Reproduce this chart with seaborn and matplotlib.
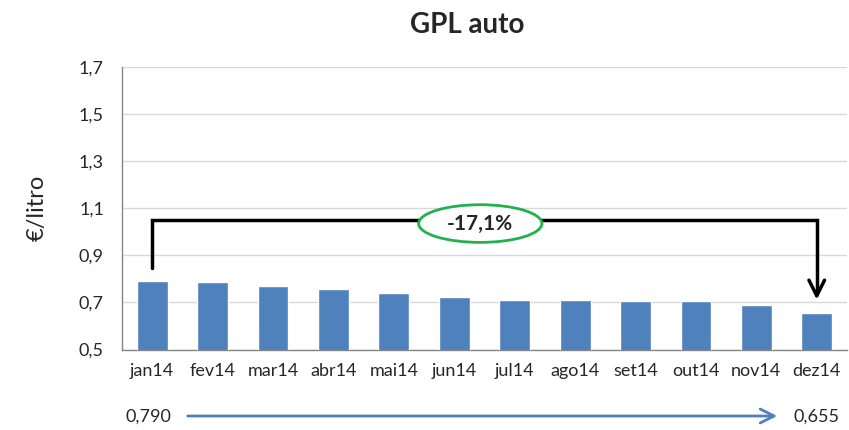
import pandas as pd
import matplotlib.pyplot as plt
import seaborn as sns
from matplotlib.patches import Ellipse

meses = ['jan14', 'fev14', 'mar14', 'abr14', 'mai14', 'jun14',
         'jul14', 'ago14', 'set14', 'out14', 'nov14', 'dez14']
precos = [0.790, 0.787, 0.768, 0.755, 0.742, 0.723,
          0.712, 0.712, 0.705, 0.705, 0.688, 0.655]
variacao = '-17,1%'
y_ticks = [0.5, 0.7, 0.9, 1.1, 1.3, 1.5, 1.7]

df = pd.DataFrame({'mes': meses, 'preco': precos})

sns.set_style('white')
plt.rcParams['font.family'] = ['Lato', 'DejaVu Sans']

fig = plt.figure(figsize=(8.49, 4.30), dpi=100)
ax = fig.add_axes([0.1437, 0.1872, 0.8539, 0.657])

sns.barplot(data=df, x='mes', y='preco', color='#4f81bd', saturation=1,
            width=0.51, ax=ax, zorder=3)

ax.set_ylim(0.5, 1.7)
ax.set_xlim(-0.5, len(meses) - 0.5)
ax.set_yticks(y_ticks)
ax.set_yticklabels([f'{v:.1f}'.replace('.', ',') for v in y_ticks], fontsize=13)
ax.grid(axis='y', color='#d9d9d9', linewidth=1, zorder=0)
ax.set_axisbelow(True)

ax.set_xlabel('')
ax.set_ylabel('€/litro', fontsize=17)
ax.yaxis.set_label_coords(-0.103, 0.5)

for s in ['top', 'right']:
    ax.spines[s].set_visible(False)
for s in ['left', 'bottom']:
    ax.spines[s].set_color('#868686')
    ax.spines[s].set_linewidth(1)

ax.tick_params(axis='x', which='major', length=0, labelsize=13, pad=10)
ax.set_xticks([i - 0.5 for i in range(len(meses) + 1)], minor=True)
ax.tick_params(axis='x', which='minor', length=5, color='#868686', direction='out')
ax.tick_params(axis='y', length=5, color='#868686', direction='out', pad=8)

# colchete com seta
n = len(meses) - 1
ax.plot([0, 0, n, n], [0.845, 1.05, 1.05, 0.74], color='black', lw=2.5,
        zorder=4, solid_joinstyle='miter')
ax.annotate('', xy=(n, 0.70), xytext=(n, 0.76),
            arrowprops=dict(arrowstyle='->', color='black', lw=2.5,
                            mutation_scale=28), zorder=5)
ax.add_patch(Ellipse((5.43, 1.035), 2.04, 0.16, facecolor='white',
                     edgecolor='#22b14c', lw=2, zorder=5))
ax.text(5.43, 1.035, variacao, ha='center', va='center', fontsize=15,
        fontweight='bold', zorder=6)

fig.text(466.7 / 849, 1 - 25 / 430, 'GPL auto', ha='center', va='center',
         fontsize=20, fontweight='bold')

# valores inicial e final
fig.text(148 / 849, 1 - 417 / 430, f'{precos[0]:.3f}'.replace('.', ','),
         ha='center', va='center', fontsize=13)
fig.text(816 / 849, 1 - 417 / 430, f'{precos[-1]:.3f}'.replace('.', ','),
         ha='center', va='center', fontsize=13)
ax.annotate('', xy=(780 / 849, 1 - 416 / 430), xytext=(185 / 849, 1 - 416 / 430),
            xycoords='figure fraction', textcoords='figure fraction',
            arrowprops=dict(arrowstyle='->', color='#4f81bd', lw=2,
                            mutation_scale=25))

fig.savefig('out.png', dpi=100)
